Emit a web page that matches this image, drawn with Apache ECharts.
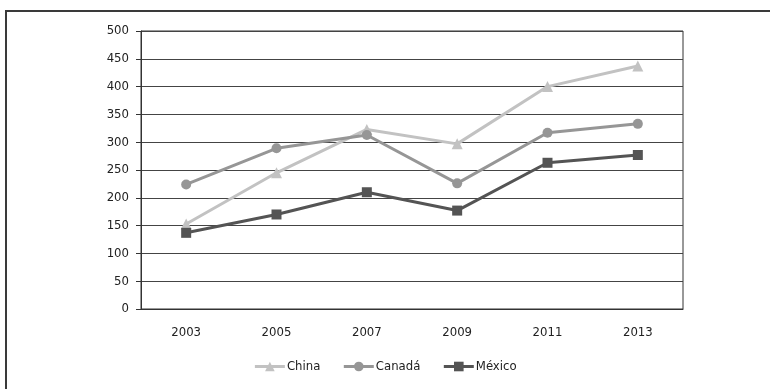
<!DOCTYPE html>
<html>
<head>
<meta charset="utf-8">
<script src="https://cdn.jsdelivr.net/npm/echarts@6/dist/echarts.min.js"></script>
<style>
  html, body { margin: 0; padding: 0; background: #fff; }
  #chart { width: 770px; height: 389px; }
</style>
</head>
<body>
<div id="chart"></div>
<script>
// data
const years = ["2003", "2005", "2007", "2009", "2011", "2013"];
const china = [153, 245, 323, 297, 400, 437];
const canada = [224, 289, 313, 226, 317, 333];
const mexico = [137, 170, 210, 177, 263, 277];
const yTicks = { min: 0, max: 500, interval: 50 };

const font = "'DejaVu Sans Condensed', 'Liberation Sans', sans-serif";

const chart = echarts.init(document.getElementById("chart"), null, { renderer: "canvas" });

function line(name, data, color, symbol, size) {
    return {
        name: name,
        type: "line",
        data: data,
        symbol: symbol,
        symbolSize: size,
        lineStyle: { color: color, width: 3 },
        itemStyle: { color: color },
        z: 3
    };
}

chart.setOption({
    animation: false,
    backgroundColor: "#fff",
    graphic: [{
        type: "rect",
        shape: { x: 6, y: 11, width: 800, height: 400 },
        style: { fill: "none", stroke: "#3a3a3a", lineWidth: 2 },
        silent: true
    }],
    grid: {
        left: 141, right: 87, top: 31, bottom: 80,
        show: true, borderColor: "#333", borderWidth: 1
    },
    legend: {
        bottom: 11,
        left: "center",
        itemWidth: 30,
        itemHeight: 12,
        itemGap: 22,
        lineStyle: { width: 3 },
        textStyle: { fontFamily: font, fontSize: 13, color: "#222", padding: [0, 0, 0, -3] },
        data: ["China", "Canadá", "México"]
    },
    xAxis: {
        type: "category",
        data: years,
        boundaryGap: true,
        axisLine: { lineStyle: { color: "#333", width: 1 } },
        axisTick: { show: false },
        axisLabel: { fontFamily: font, fontSize: 13, color: "#222", margin: 17 }
    },
    yAxis: {
        type: "value",
        min: yTicks.min,
        max: yTicks.max,
        interval: yTicks.interval,
        axisLine: { show: true, lineStyle: { color: "#333", width: 1 } },
        axisTick: { show: true, length: 5, lineStyle: { color: "#333" } },
        axisLabel: { fontFamily: font, fontSize: 13, color: "#222", margin: 12 },
        splitLine: { lineStyle: { color: "#444", width: 1 } }
    },
    series: [
        line("China", china, "#c2c2c2", "triangle", 11),
        line("Canadá", canada, "#969696", "circle", 10),
        line("México", mexico, "#545454", "rect", 10)
    ]
});
</script>
</body>
</html>
